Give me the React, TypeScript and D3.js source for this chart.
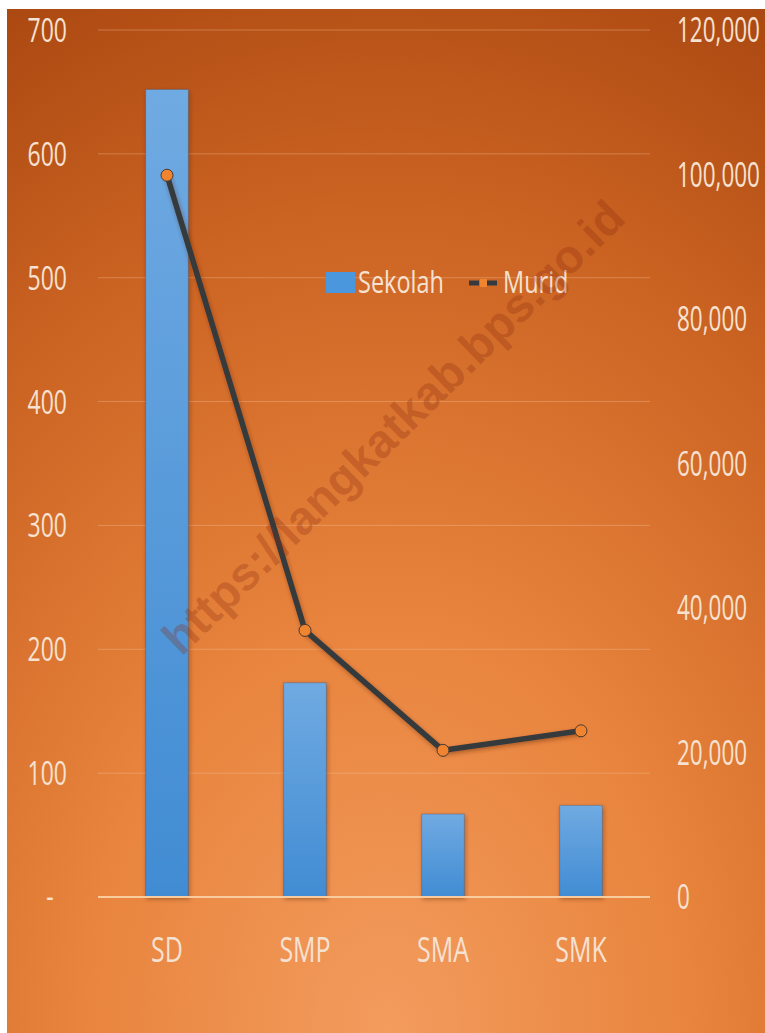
import React from "react";
import * as d3 from "d3";

const categories = ["SD", "SMP", "SMA", "SMK"];
const sekolah = [652, 173, 67, 74];
const murid = [99900, 36900, 20300, 23000];
const leftTicks = [0, 100, 200, 300, 400, 500, 600, 700];
const rightTicks = [0, 20000, 40000, 60000, 80000, 100000, 120000];
const seriesNames = ["Sekolah", "Murid"];
const watermark = "https://langkatkab.bps.go.id";

const W = 765;
const H = 1033;
const FONT = "'Open Sans', 'Noto Sans', sans-serif";
const TXT = "#F6E2D2";

export default function App() {
  const x = d3.scaleBand<string>().domain(categories).range([98, 650]);
  const yL = d3.scaleLinear().domain([0, 700]).range([897, 30]);
  const yR = d3.scaleLinear().domain([0, 120000]).range([897, 30]);
  const bw = x.bandwidth() * 0.31;
  const cx = (c: string) => (x(c) as number) + x.bandwidth() / 2;
  const fmt = d3.format(",");
  const line = d3
    .line<number>()
    .x((_, i) => cx(categories[i]))
    .y((d) => yR(d));

  const sText = (
    tx: number,
    ty: number,
    s: string,
    size: number,
    sy: number,
    anchor: string,
    key?: string | number
  ) => (
    <g key={key} transform={`translate(${tx},${ty}) scale(1,${sy})`}>
      <text
        x={0}
        y={0}
        fontFamily={FONT}
        fontSize={size}
        fill={TXT}
        textAnchor={anchor as any}
      >
        {s}
      </text>
    </g>
  );

  return (
    <div style={{ position: "absolute", left: 0, top: 0 }}>
      <svg width={W} height={H} viewBox={`0 0 ${W} ${H}`}>
        <defs>
          <radialGradient id="bg" cx="50%" cy="100%" r="115%" fx="50%" fy="100%">
            <stop offset="0%" stopColor="#F39C5E" />
            <stop offset="35%" stopColor="#E8843D" />
            <stop offset="70%" stopColor="#CB6322" />
            <stop offset="100%" stopColor="#A84610" />
          </radialGradient>
          <linearGradient id="bar" x1="0" y1="0" x2="0" y2="1">
            <stop offset="0%" stopColor="#70AAE2" />
            <stop offset="100%" stopColor="#418CD3" />
          </linearGradient>
          <filter id="sh" x="-20%" y="-20%" width="140%" height="140%">
            <feDropShadow dx="1" dy="2" stdDeviation="2" floodColor="#5a2500" floodOpacity="0.45" />
          </filter>
        </defs>
        <rect x={0} y={0} width={W} height={H} fill="#ffffff" />
        <rect x={7} y={9} width={W - 7} height={H - 9} fill="url(#bg)" />

        {/* gridlines */}
        {leftTicks
          .filter((t) => t > 0)
          .map((t) => (
            <line
              key={t}
              x1={98}
              x2={650}
              y1={yL(t)}
              y2={yL(t)}
              stroke="#F6C9A2"
              strokeOpacity={0.35}
              strokeWidth={1}
            />
          ))}

        {/* bars */}
        {categories.map((c, i) => (
          <rect
            key={c}
            x={cx(c) - bw / 2}
            y={yL(sekolah[i])}
            width={bw}
            height={yL(0) - yL(sekolah[i])}
            fill="url(#bar)"
            stroke="#4a4a5a"
            strokeOpacity={0.35}
            strokeWidth={1}
            filter="url(#sh)"
          />
        ))}

        {/* baseline */}
        <line x1={98} x2={650} y1={yL(0)} y2={yL(0)} stroke="#F8CC9E" strokeWidth={2} />

        {/* line series */}
        <path
          d={line(murid) as string}
          fill="none"
          stroke="#353a3e"
          strokeWidth={5.5}
          strokeLinejoin="round"
          filter="url(#sh)"
        />
        {murid.map((v, i) => (
          <circle
            key={i}
            cx={cx(categories[i])}
            cy={yR(v)}
            r={6}
            fill="#F0842F"
            stroke="#4a3a30"
            strokeWidth={1}
          />
        ))}

        {/* left axis labels */}
        {leftTicks.map((t) =>
          t === 0
            ? sText(50, yL(t) + 11, "-", 23, 1.45, "middle", "l" + t)
            : sText(67, yL(t) + 12, String(t), 23, 1.45, "end", "l" + t)
        )}

        {/* right axis labels */}
        {rightTicks.map((t) => sText(677, yR(t) + 12, fmt(t), 22.5, 1.5, "start", "r" + t))}

        {/* x labels */}
        {categories.map((c) => sText(cx(c), 962, c, 25, 1.42, "middle", "x" + c))}

        {/* legend */}
        <rect x={326} y={272} width={29} height={21} fill="#4A97DE" />
        {sText(358, 293, seriesNames[0], 23.5, 1.3, "start", "lg0")}
        <line x1={469} x2={479} y1={283} y2={283} stroke="#353a3e" strokeWidth={5} />
        <line x1={487} x2={497} y1={283} y2={283} stroke="#353a3e" strokeWidth={5} />
        <rect x={480} y={279} width={7} height={8} fill="#F0842F" />
        {sText(503, 293, seriesNames[1], 23.5, 1.3, "start", "lg1")}

        {/* watermark */}
        <text
          x={0}
          y={0}
          transform="translate(393,427) rotate(-44.4)"
          fontFamily="'Liberation Sans', Arial, sans-serif"
          fontWeight="bold"
          fontSize={47}
          textAnchor="middle"
          dominantBaseline="central"
          fill="#8B2A10"
          fillOpacity={0.3}
        >
          {watermark}
        </text>
      </svg>
    </div>
  );
}
